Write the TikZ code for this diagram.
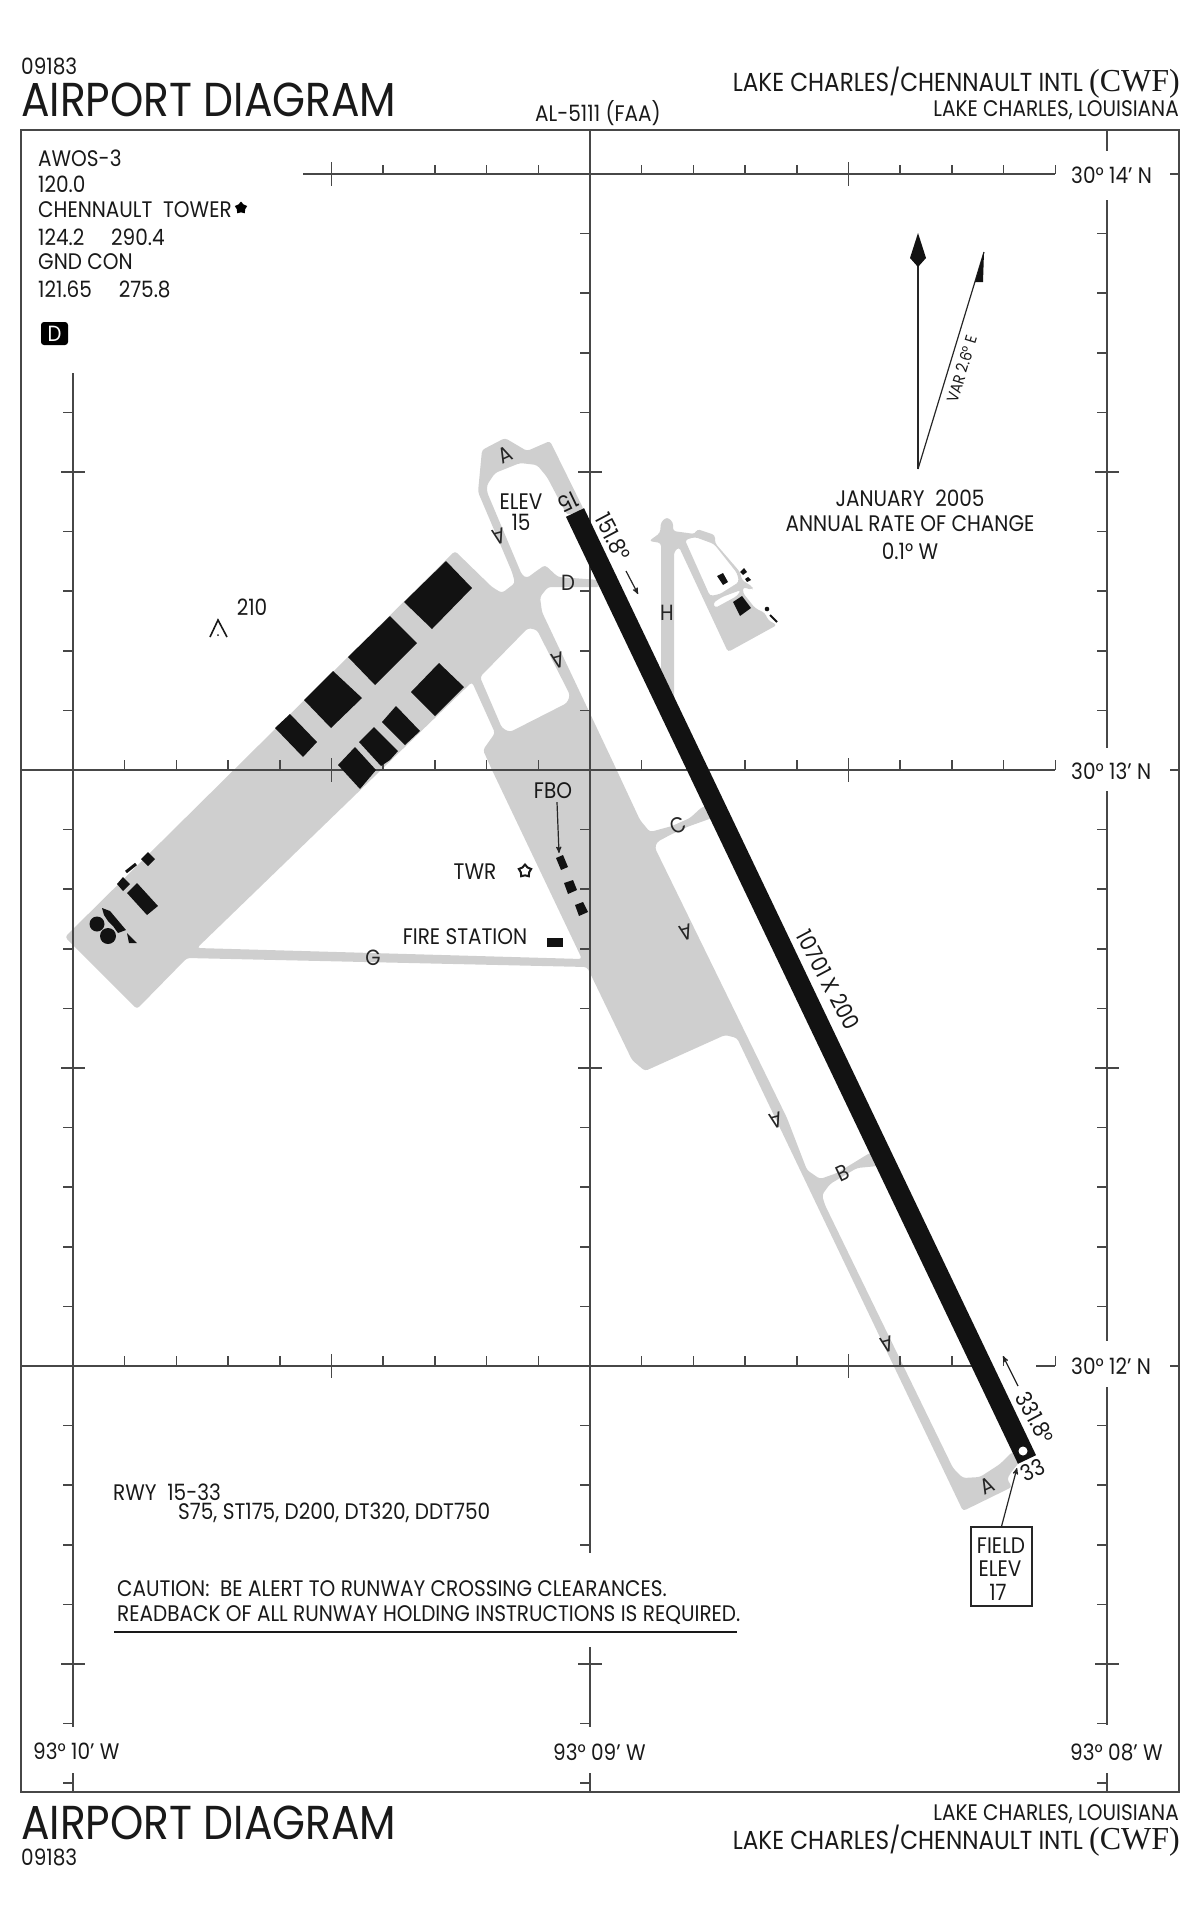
\documentclass[tikz,border=0pt]{standalone}
\usepackage{fontspec}
\usetikzlibrary{arrows}
\usetikzlibrary{shapes.geometric}
\setmainfont{Poppins}[FakeStretch=0.89]
\newfontfamily\cwffont{Liberation Serif}
\newcommand{\sztaxi}{\fontsize{22}{22}\selectfont}
\newcommand{\sztext}{\fontsize{22.5}{22.5}\selectfont}
\newcommand{\szname}{\fontsize{26}{26}\selectfont}
\newcommand{\sztitle}{\fontsize{47.6}{47.6}\selectfont}
\begin{document}
\begin{tikzpicture}[x=1pt,y=-1pt,
    grid line/.style={line width=1.5pt,color=black!72},
    thin line/.style={line width=1.2pt,color=black!85},
    pavement/.style={fill=black!19,even odd rule,rounded corners=3pt},
    building/.style={fill=black!93},
    runway/.style={line width=20pt,color=black!93},
    label/.style={inner sep=0pt,font=\sztext,color=black!90},
    taxi/.style={inner sep=0pt,font=\sztaxi,color=black!85},
    ]
\useasboundingbox (0,0) rectangle (1200,1922);

%% draw taxiways and aprons
\path[pavement] (65,937) -- (455,551) -- (492,587) -- (502,593) -- (515,583) -- (512,572)
  -- (478,492) -- (482,450) -- (505,438) -- (527,451) -- (550,441) -- (584,510) -- (567,515)
  -- (547,477) -- (537,465) -- (520,463) -- (495,473) -- (487,485) -- (487,492) -- (522,575)
  -- (527,578) -- (535,572) -- (545,565) -- (558,577) -- (600,580) -- (600,587) -- (548,587)
  -- (540,597) -- (542,612) -- (612,760) -- (640,820) -- (650,832) -- (672,826) -- (690,818)
  -- (702,807) -- (712,805) -- (712,818) -- (687,827) -- (670,835) -- (657,842) -- (655,848)
  -- (787,1118) -- (807,1170) -- (820,1179) -- (837,1173) -- (868,1154) -- (878,1150) -- (878,1166)
  -- (857,1168) -- (830,1184) -- (822,1195) -- (825,1205) -- (953,1468) -- (963,1478) -- (980,1477)
  -- (1000,1464) -- (1012,1452) -- (1022,1456) -- (1018,1464) -- (1012,1471) -- (1007,1479)
  -- (1012,1487) -- (963,1511) -- (737,1038) -- (725,1035) -- (645,1071) -- (632,1060)
  -- (590,973) -- (587,967) -- (187,958) -- (137,1009) -- cycle
  (472,682) -- (495,733) -- (483,750) -- (492,770) -- (582,959) -- (197,948) -- cycle
  (480,677) -- (528,628) -- (537,630) -- (570,695) -- (567,703) -- (510,732) -- (502,728) -- cycle;
\path[pavement] (661,690) -- (661,543) -- (649,541) -- (660,533) -- (661,522) -- (667,517)
  -- (673,522) -- (673,531) -- (695,534) -- (697,529) -- (715,535) -- (715,543) -- (740,572)
  -- (742,580) -- (753,587) -- (752,590) -- (743,587) -- (743,593) -- (755,608) -- (765,613)
  -- (768,620) -- (777,625) -- (728,652) -- (679,547) -- (674,552) -- (674,715) -- cycle
  (685,540) -- (695,537) -- (714,544) -- (737,573) -- (739,582) -- (720,594) -- (710,596) -- cycle
  (713,603) -- (715,608) -- (737,596) -- (741,590) -- (722,597) -- cycle;

%% frame
\draw[grid line] (21,130) rectangle (1179,1792);

%% latitude lines
\draw[grid line] (303,174) -- (1055,174);
\draw[grid line] (21,770) -- (1055,770);
\draw[grid line] (21,1366) -- (985,1366);
\draw[grid line] (1036,1366) -- (1055,1366);
\draw[grid line] (1170,174) -- (1179,174);
\draw[grid line] (1170,770) -- (1179,770);
\draw[grid line] (1170,1366) -- (1179,1366);
\foreach \k in {6,7,8,9,11,12,13,14,16,17,18,19}
  \draw[grid line] (73+51.7*\k,165) -- (73+51.7*\k,174);
\foreach \lat in {770,1366}
  \foreach \k in {1,2,3,4,6,7,8,9,11,12,13,14,16,17,18,19}
    \draw[grid line] (73+51.7*\k,\lat-10) -- (73+51.7*\k,\lat);
\foreach \lat in {174,770,1366} {
  \draw[grid line] (331.5,\lat-12) -- (331.5,\lat+12);
  \draw[grid line] (848.5,\lat-12) -- (848.5,\lat+12);
}

%% longitude lines
\draw[grid line] (73,373) -- (73,1727);
\draw[grid line] (73,1773) -- (73,1792);
\draw[grid line] (590,130) -- (590,1553);
\draw[grid line] (590,1647) -- (590,1727);
\draw[grid line] (590,1773) -- (590,1792);
\draw[grid line] (1107,130) -- (1107,151);
\draw[grid line] (1107,200) -- (1107,748);
\draw[grid line] (1107,791) -- (1107,1341);
\draw[grid line] (1107,1387) -- (1107,1725);
\draw[grid line] (1107,1773) -- (1107,1792);
\foreach \k in {-6,-4,-3,-2,-1,1,2,3,4,6,7,8,9,11,12,13,14,16,17}
  \draw[grid line] (63,770+59.6*\k) -- (73,770+59.6*\k);
\foreach \k in {-9,-8,-7,-6,-3,-2,-1,1,2,3,4,6,7,8,9,11,12,13,16,17}
  \draw[grid line] (580,770+59.6*\k) -- (590,770+59.6*\k);
\foreach \k in {-9,-8,-7,-6,-4,-3,-2,-1,1,2,3,4,6,7,8,9,11,12,13,14,16,17}
  \draw[grid line] (1097,770+59.6*\k) -- (1107,770+59.6*\k);
\foreach \mx in {73,590,1107} {
  \draw[grid line] (\mx-12,472) -- (\mx+12,472);
  \draw[grid line] (\mx-12,1068) -- (\mx+12,1068);
  \draw[grid line] (\mx-12,1664) -- (\mx+12,1664);
}

%% runway
\coordinate (rwyN) at (575,512.5);
\coordinate (rwyS) at (1027,1459.5);
\draw[runway] (rwyN) -- (rwyS);
\fill[white] (1023,1451) circle (4.5);

%% buildings
\fill[building] (446,561) -- (472,588) -- (432,629) -- (404,602) -- cycle;
\fill[building] (390,616) -- (417,643) -- (375,685) -- (348,657) -- cycle;
\fill[building] (333,671) -- (362,698) -- (331,728) -- (304,700) -- cycle;
\fill[building] (290,714) -- (317,742) -- (303,757) -- (275,728) -- cycle;
\fill[building] (439,663) -- (464,687) -- (435,716) -- (411,692) -- cycle;
\fill[building] (396,706) -- (420,731) -- (405,745) -- (382,722) -- cycle;
\fill[building] (374,727) -- (398,751) -- (390,760) -- (381,766) -- (359,742) -- cycle;
\fill[building] (355,747) -- (376,770) -- (360,789) -- (338,765) -- cycle;
\fill[building] (148,852) -- (155,859) -- (148,866) -- (141,859) -- cycle;
\draw[building,draw=black!93,line width=3pt] (126,872) -- (136,864);
\fill[building] (123,877) -- (130,884) -- (123,891) -- (117,884) -- cycle;
\fill[building] (137,883) -- (158,906) -- (147,915) -- (127,893) -- cycle;
\fill[building] (97,924) circle (7.5);
\fill[building] (108,936) circle (8);
\fill[building] (102,908) -- (110,911) -- (126,930) -- (118,933) -- (113,926) -- (108,921) -- (104,915) -- cycle;
\fill[building] (127,933) -- (137,943) -- (129,943) -- cycle;
\fill[building] (556,858) -- (563,855) -- (568,867) -- (561,870) -- cycle;
\fill[building] (564,883) -- (573,880) -- (577,890) -- (568,894) -- cycle;
\fill[building] (575,905) -- (583,902) -- (588,912) -- (579,916) -- cycle;
\fill[building] (547,938) rectangle (563,947);
\fill[building] (717,576) -- (723,573) -- (728,582) -- (723,585) -- cycle;
\fill[building] (733,602) -- (742,596) -- (751,608) -- (740,616) -- cycle;
\fill[building] (740,572) -- (744,568) -- (747,572) -- (743,575) -- cycle;
\fill[building] (745,579) -- (748,577) -- (751,580) -- (747,582) -- cycle;
\fill[building] (767,609) circle (2.3);
\draw[building,draw=black!93,line width=2pt] (770,615) -- (777,622);

%% north arrow and variation
\coordinate (varbase) at (918,469);
\coordinate (vartip) at (984,252);
\draw[thin line] (varbase) -- (918,262);
\draw[thin line] (varbase) -- (vartip);
\fill[black!93] (918,233) -- (926,258) -- (918,267) -- (910,258) -- cycle;
\fill[black!93] (vartip) -- (983,282) -- (975,282) -- cycle;
\node[label,font=\fontsize{16}{16}\selectfont,rotate=73] (varlabel) at (962,369) {VAR 2.6° E};

%% header
\node[label,anchor=west] (numtop) at (21,66) {09183};
\node[label,font=\sztitle,anchor=west] (titletop) at (21,100) {AIRPORT DIAGRAM};
\node[label,anchor=west] (vol) at (535,113) {AL-5111 (FAA)};
\node[label,font=\szname,anchor=east] (nametop) at (1180,83) {LAKE CHARLES/CHENNAULT INTL {\cwffont\fontsize{32}{32}\selectfont (CWF)}};
\node[label,anchor=east] (citytop) at (1179,110) {LAKE CHARLES, LOUISIANA};

%% footer
\node[label,anchor=west] (numbot) at (21,1857) {09183};
\node[label,font=\sztitle,anchor=west] (titlebot) at (21,1823) {AIRPORT DIAGRAM};
\node[label,anchor=east] (citybot) at (1179,1814) {LAKE CHARLES, LOUISIANA};
\node[label,font=\szname,anchor=east] (namebot) at (1180,1841) {LAKE CHARLES/CHENNAULT INTL {\cwffont\fontsize{32}{32}\selectfont (CWF)}};

%% frequencies
\node[label,anchor=west] (awos) at (38,158) {AWOS-3};
\node[label,anchor=west] (awosf) at (38,184) {120.0};
\node[label,anchor=west] (tower) at (38,210) {CHENNAULT\ \ TOWER};
\node[star,star points=5,fill=black,inner sep=0pt,minimum size=13pt] (towermark) at (241,208) {};
\node[label,anchor=west] (towerf) at (38,237) {124.2\ \ \ \ \ 290.4};
\node[label,anchor=west] (gnd) at (38,262) {GND CON};
\node[label,anchor=west] (gndf) at (38,289) {121.65\ \ \ \ \ 275.8};
\node[fill=black,rounded corners=3pt,text=white,inner sep=0pt,minimum width=27pt,minimum height=23pt,font=\sztaxi] (dbox) at (54.5,333.5) {D};

%% coordinates
\node[label,anchor=west] (lat14) at (1071,175) {30°\ 14'\ N};
\node[label,anchor=west] (lat13) at (1071,771) {30°\ 13'\ N};
\node[label,anchor=west] (lat12) at (1071,1366) {30°\ 12'\ N};
\node[label,anchor=west] (lon10) at (33,1751) {93° 10' W};
\node[label,anchor=west] (lon09) at (553,1752) {93° 09' W};
\node[label,anchor=west] (lon08) at (1070,1752) {93° 08' W};

%% variation note
\node[label] (varyear) at (910,498) {JANUARY\ \ 2005};
\node[label] (varrate) at (910,524) {ANNUAL RATE OF CHANGE};
\node[label] (varval) at (910,551) {0.1° W};

%% obstacle
\draw[line width=1.6pt,black!90] (210,637) -- (218,620) -- (227,637);
\fill[black!90] (218,635) circle (1);
\node[label] (obst) at (252,607) {210};

%% airport labels
\node[label] (elev) at (521,502) {ELEV};
\node[label] (elevnum) at (521,522) {15};
\node[label] (fbo) at (553,791) {FBO};
\coordinate (fboend) at (559,853);
\draw[thin line,->,>=stealth'] (fbo.south) ++(4,3) -- (fboend);
\node[label] (twr) at (475,872) {TWR};
\node[star,star points=5,draw=black!90,line width=2pt,inner sep=0pt,minimum size=13pt] (twrmark) at (525,871) {};
\node[label] (fire) at (465,937) {FIRE STATION};
\node[label,rotate=205.5] (rwyfifteen) at (568,502) {15};
\node[label,rotate=25.5] (rwythirty) at (1033,1470) {33};
\node[label,rotate=-62] (hdgn) at (613,537) {151.8°};
\coordinate (hdgna) at (626,571);
\coordinate (hdgnb) at (638,594);
\draw[thin line,->,>=stealth'] (hdgna) -- (hdgnb);
\node[label,rotate=-62] (hdgs) at (1035,1418) {331.8°};
\coordinate (hdgsa) at (1018,1386);
\coordinate (hdgsb) at (1003,1356);
\draw[thin line,->,>=stealth'] (hdgsa) -- (hdgsb);
\node[label,rotate=-62] (rwylen) at (828,980) {10701 X 200};

%% taxiway letters
\node[taxi,rotate=25] (ta1) at (505,455) {A};
\node[taxi,rotate=195] (ta2) at (499,537) {A};
\node[taxi,rotate=195] (ta3) at (558,661) {A};
\node[taxi,rotate=195] (ta4) at (686,933) {A};
\node[taxi,rotate=195] (ta5) at (776,1121) {A};
\node[taxi,rotate=195] (ta6) at (887,1345) {A};
\node[taxi,rotate=25] (ta7) at (987,1486) {A};
\node[taxi,rotate=25] (tb) at (843,1173) {B};
\node[taxi,rotate=25] (tc) at (678,825) {C};
\node[taxi] (td) at (568,583) {D};
\node[taxi] (tg) at (373,958) {G};
\node[taxi] (th) at (667,613) {H};

%% field elevation box
\node[draw=black!85,line width=1.2pt,inner sep=0pt,minimum width=61pt,minimum height=79pt] (fieldbox) at (1001.5,1566.5) {};
\node[label] (fieldone) at (1001,1546) {FIELD};
\node[label] (fieldtwo) at (1000,1569) {ELEV};
\node[label] (fieldthree) at (998,1592) {17};
\coordinate (fieldend) at (1017,1468);
\draw[thin line,->,>=stealth'] (fieldbox.north) -- (fieldend);

%% runway data and caution
\node[label,anchor=west] (rwydata) at (113,1492) {RWY\ \ 15-33};
\node[label,anchor=west] (rwyload) at (178,1513) {S75, ST175, D200, DT320, DDT750};
\node[label,anchor=west] (cautionone) at (117,1589) {CAUTION:\ \ BE ALERT TO RUNWAY CROSSING CLEARANCES.};
\node[label,anchor=west] (cautiontwo) at (117,1615) {READBACK OF ALL RUNWAY HOLDING INSTRUCTIONS IS REQUIRED.};
\draw[line width=1.6pt,black!90] (114,1632) -- (737,1632);

\end{tikzpicture}
\end{document}
